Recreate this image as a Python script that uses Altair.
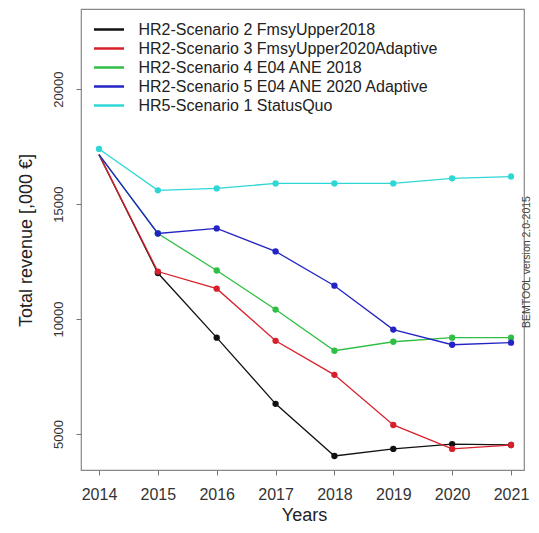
import altair as alt
import pandas as pd

years = [2014, 2015, 2016, 2017, 2018, 2019, 2020, 2021]
series_names = [
    "HR2-Scenario 2 FmsyUpper2018",
    "HR2-Scenario 3 FmsyUpper2020Adaptive",
    "HR2-Scenario 4 E04 ANE 2018",
    "HR2-Scenario 5 E04 ANE 2020 Adaptive",
    "HR5-Scenario 1 StatusQuo",
]
s2_fmsy2018 = [17150, 12000, 9190, 6310, 4040, 4350, 4560, 4520]
s3_fmsy2020 = [17150, 12065, 11320, 9050, 7570, 5390, 4350, 4520]
s4_ane2018 = [17150, 13720, 12110, 10410, 8620, 9010, 9190, 9190]
s5_ane2020 = [17150, 13720, 13940, 12940, 11450, 9540, 8880, 8970]
s1_statusquo = [17400, 15600, 15680, 15900, 15900, 15900, 16120, 16200]
colors = ["#111111", "#d8202c", "#2fbf45", "#2424c4", "#2fd6d6"]
y_ticks = [5000, 10000, 15000, 20000]

all_series = [s2_fmsy2018, s3_fmsy2020, s4_ane2018, s5_ane2020, s1_statusquo]
rows = []
for name, vals in zip(series_names, all_series):
    for yr, v in zip(years, vals):
        rows.append({"year": yr, "value": v, "series": name})
df = pd.DataFrame(rows)

font = "Liberation Sans"

xscale = alt.Scale(domain=[2013.694, 2021.221], nice=False, zero=False)
yscale = alt.Scale(domain=[3431, 23487], nice=False, zero=False)

color = alt.Color(
    "series:N",
    scale=alt.Scale(domain=series_names, range=colors),
    sort=series_names,
    legend=alt.Legend(
        title=None,
        orient="none",
        legendX=18.5,
        legendY=11,
        direction="vertical",
        symbolType="M-1.875,0H1.875",
        symbolSize=256,
        symbolStrokeWidth=2.5,
        labelFontSize=16,
        labelFont=font,
        labelColor="#222222",
        labelOffset=20,
        labelLimit=0,
        rowPadding=1,
        padding=0,
    ),
)

x_enc = alt.X(
    "year:Q",
    scale=xscale,
    axis=alt.Axis(
        values=years,
        format="d",
        title="Years",
        titleFont=font,
        titleFontSize=18,
        titleFontWeight="normal",
        titleColor="#222222",
        titleX=223,
        titleY=45,
        titleBaseline="middle",
        titleAlign="center",
        labelFont=font,
        labelFontSize=16,
        labelColor="#333333",
        labelPadding=11,
        tickSize=5,
        tickColor="#777777",
        domain=False,
        grid=False,
    ),
)
y_enc = alt.Y(
    "value:Q",
    scale=yscale,
    axis=alt.Axis(
        values=y_ticks,
        format="d",
        title="Total revenue [,000 €]",
        titleFont=font,
        titleFontSize=18,
        titleFontWeight="normal",
        titleColor="#222222",
        titleAngle=270,
        titleX=-55,
        titleY=231,
        titleBaseline="middle",
        titleAlign="center",
        labelFont=font,
        labelFontSize=13,
        labelColor="#333333",
        labelAngle=270,
        labelAlign="center",
        labelBaseline="bottom",
        labelPadding=11,
        tickSize=5,
        tickColor="#777777",
        domain=False,
        grid=False,
    ),
)

base = alt.Chart(df)
lines = base.mark_line(strokeWidth=1.3).encode(x=x_enc, y=y_enc, color=color, order="year:Q")
points = (
    base.transform_filter(
        "datum.year != 2014 || datum.series == 'HR5-Scenario 1 StatusQuo'"
    )
    .mark_circle(size=40, opacity=1)
    .encode(x=x_enc, y=y_enc, color=alt.Color("series:N", scale=alt.Scale(domain=series_names, range=colors), legend=None))
)
side = alt.Chart(pd.DataFrame({"t": ["BEMTOOL version 2.0-2015"]})).mark_text(
    angle=270, fontSize=10.5, font=font, color="#444444", baseline="middle", align="center"
).encode(text="t:N", x=alt.value(446), y=alt.value(253))

chart = (
    alt.layer(lines, points, side)
    .properties(
        width=443,
        height=461,
        padding={"left": 73, "top": 1, "right": 7, "bottom": 55},
        autosize=alt.AutoSizeParams(type="none"),
        background="white",
    )
    .configure_view(stroke="#888888", strokeWidth=1.2)
)

chart.save("out.html", embed_options={"renderer": "svg", "actions": False})
